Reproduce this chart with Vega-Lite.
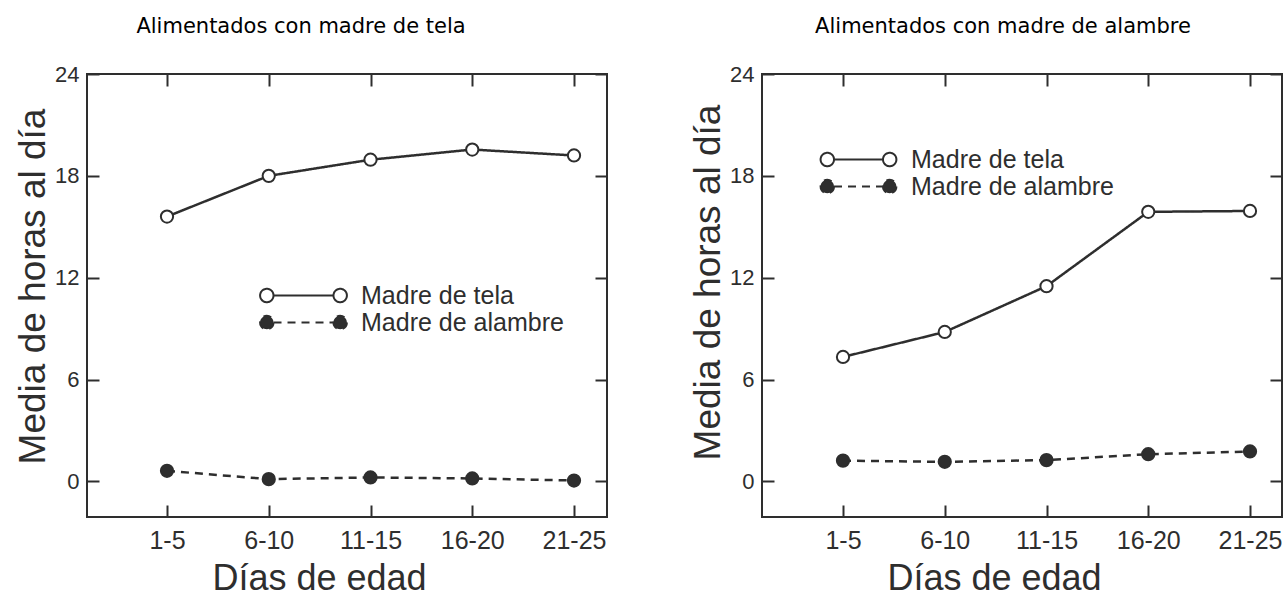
{
  "$schema": "https://vega.github.io/schema/vega-lite/v6.json",
  "padding": {"left": 13, "top": 15, "right": 0, "bottom": 0},
  "background": "white",
  "config": {
    "view": {"stroke": "#2e2e2e", "strokeWidth": 2},
    "font": "Liberation Sans",
    "axis": {
      "domain": false, "tickColor": "#2e2e2e", "tickWidth": 2, "tickSize": -12,
      "labelColor": "#2e2e2e", "titleColor": "#2e2e2e", "grid": false,
      "labelFont": "Liberation Sans", "titleFont": "Liberation Sans", "titleFontWeight": "normal"
    },
    "legend": {
      "title": null, "orient": "none", "padding": 0, "symbolSize": 180,
      "symbolStrokeColor": "#2e2e2e", "symbolStrokeWidth": 2, "symbolOpacity": 1,
      "labelFont": "Liberation Sans", "labelFontSize": 25, "labelColor": "#2e2e2e", "labelLimit": 400, "rowPadding": 1
    },
    "title": {"font": "DejaVu Sans", "fontSize": 21, "fontWeight": "normal", "color": "#000"}
  },
  "datasets": {
    "datos": [
      {"grupo": "tela", "serie": "Madre de tela", "edad": "1-5", "horas": 15.6},
      {"grupo": "tela", "serie": "Madre de tela", "edad": "6-10", "horas": 18.0},
      {"grupo": "tela", "serie": "Madre de tela", "edad": "11-15", "horas": 18.95},
      {"grupo": "tela", "serie": "Madre de tela", "edad": "16-20", "horas": 19.55},
      {"grupo": "tela", "serie": "Madre de tela", "edad": "21-25", "horas": 19.2},
      {"grupo": "tela", "serie": "Madre de alambre", "edad": "1-5", "horas": 0.62},
      {"grupo": "tela", "serie": "Madre de alambre", "edad": "6-10", "horas": 0.13},
      {"grupo": "tela", "serie": "Madre de alambre", "edad": "11-15", "horas": 0.23},
      {"grupo": "tela", "serie": "Madre de alambre", "edad": "16-20", "horas": 0.17},
      {"grupo": "tela", "serie": "Madre de alambre", "edad": "21-25", "horas": 0.05},
      {"grupo": "alambre", "serie": "Madre de tela", "edad": "1-5", "horas": 7.33},
      {"grupo": "alambre", "serie": "Madre de tela", "edad": "6-10", "horas": 8.8},
      {"grupo": "alambre", "serie": "Madre de tela", "edad": "11-15", "horas": 11.5},
      {"grupo": "alambre", "serie": "Madre de tela", "edad": "16-20", "horas": 15.88},
      {"grupo": "alambre", "serie": "Madre de tela", "edad": "21-25", "horas": 15.93},
      {"grupo": "alambre", "serie": "Madre de alambre", "edad": "1-5", "horas": 1.22},
      {"grupo": "alambre", "serie": "Madre de alambre", "edad": "6-10", "horas": 1.15},
      {"grupo": "alambre", "serie": "Madre de alambre", "edad": "11-15", "horas": 1.25},
      {"grupo": "alambre", "serie": "Madre de alambre", "edad": "16-20", "horas": 1.6},
      {"grupo": "alambre", "serie": "Madre de alambre", "edad": "21-25", "horas": 1.76}
    ]
  },
  "spacing": 79,
  "resolve": {
    "scale": {"fill": "independent", "strokeDash": "independent"},
    "legend": {"fill": "independent", "strokeDash": "independent"}
  },
  "hconcat": [
    {
      "title": {"text": "Alimentados con madre de tela", "anchor": "middle", "frame": "group", "dx": -46, "offset": 26},
      "width": 520, "height": 443,
      "data": {"name": "datos"},
      "transform": [{"filter": "datum.grupo == 'tela'"}],
      "resolve": {"axis": {"x": "independent", "y": "independent"}},
      "layer": [
        {
          "mark": {"type": "line", "color": "#2e2e2e", "strokeWidth": 2.5},
          "encoding": {
            "x": {"field": "edad", "type": "ordinal", "scale": {"type": "point", "padding": 0, "domain": ["1-5", "6-10", "11-15", "16-20", "21-25"], "range": [80, 487]},
                  "axis": {"orient": "bottom", "title": "Días de edad", "titleFontSize": 36, "titlePadding": 8, "titleX": 232, "titleAlign": "center", "labelFontSize": 25, "labelPadding": 23, "labelAngle": 0}},
            "y": {"field": "horas", "type": "quantitative", "scale": {"domain": [-2.1, 24], "nice": false, "zero": false},
                  "axis": {"orient": "left", "title": "Media de horas al día", "titleFontSize": 37, "titlePadding": 2, "titleY": 212, "titleAlign": "center", "values": [0, 6, 12, 18, 24], "labelFontSize": 22, "labelPadding": 20}},
            "strokeDash": {"field": "serie", "type": "nominal", "scale": {"domain": ["Madre de tela", "Madre de alambre"], "range": [[1, 0], [8, 6]]},
                  "legend": {"legendX": 204, "legendY": 209, "labelOffset": 45,
                    "symbolType": "M -4.47 0 A 1 1 0 1 1 -6.47 0 A 1 1 0 1 1 -4.47 0 Z M -4.47 0 L 4.47 0 M 6.47 0 A 1 1 0 1 1 4.47 0 A 1 1 0 1 1 6.47 0 Z"}}
          }
        },
        {
          "mark": {"type": "point", "shape": "circle", "filled": true, "size": 150, "stroke": "#2e2e2e", "strokeWidth": 2, "opacity": 1},
          "encoding": {
            "x": {"field": "edad", "type": "ordinal", "axis": {"orient": "top", "title": null, "labels": false}},
            "y": {"field": "horas", "type": "quantitative", "axis": {"orient": "right", "title": null, "labels": false, "values": [0, 6, 12, 18, 24]}},
            "fill": {"field": "serie", "type": "nominal", "scale": {"domain": ["Madre de tela", "Madre de alambre"], "range": ["white", "#2e2e2e"]},
                  "legend": {"legendX": 204, "legendY": 209, "labelOffset": 45,
                    "symbolType": "M -4.47 0 A 1 1 0 1 1 -6.47 0 A 1 1 0 1 1 -4.47 0 Z M -4.47 0 L 4.47 0 M 6.47 0 A 1 1 0 1 1 4.47 0 A 1 1 0 1 1 6.47 0 Z"}}
          }
        }
      ]
    },
    {
      "title": {"text": "Alimentados con madre de alambre", "anchor": "middle", "frame": "group", "dx": -19, "offset": 26},
      "width": 520, "height": 443,
      "data": {"name": "datos"},
      "transform": [{"filter": "datum.grupo == 'alambre'"}],
      "resolve": {"axis": {"x": "independent", "y": "independent"}},
      "layer": [
        {
          "mark": {"type": "line", "color": "#2e2e2e", "strokeWidth": 2.5},
          "encoding": {
            "x": {"field": "edad", "type": "ordinal", "scale": {"type": "point", "padding": 0, "domain": ["1-5", "6-10", "11-15", "16-20", "21-25"], "range": [81, 488]},
                  "axis": {"orient": "bottom", "title": "Días de edad", "titleFontSize": 36, "titlePadding": 8, "titleX": 232, "titleAlign": "center", "labelFontSize": 25, "labelPadding": 23, "labelAngle": 0}},
            "y": {"field": "horas", "type": "quantitative", "scale": {"domain": [-2.1, 24], "nice": false, "zero": false},
                  "axis": {"orient": "left", "title": "Media de horas al día", "titleFontSize": 37, "titlePadding": 2, "titleY": 208, "titleAlign": "center", "values": [0, 6, 12, 18, 24], "labelFontSize": 22, "labelPadding": 20}},
            "strokeDash": {"field": "serie", "type": "nominal", "scale": {"domain": ["Madre de tela", "Madre de alambre"], "range": [[1, 0], [8, 6]]},
                  "legend": {"legendX": 84, "legendY": 73, "labelOffset": 40,
                    "symbolType": "M -3.65 0 A 1 1 0 1 1 -5.65 0 A 1 1 0 1 1 -3.65 0 Z M -3.65 0 L 3.65 0 M 5.65 0 A 1 1 0 1 1 3.65 0 A 1 1 0 1 1 5.65 0 Z"}}
          }
        },
        {
          "mark": {"type": "point", "shape": "circle", "filled": true, "size": 150, "stroke": "#2e2e2e", "strokeWidth": 2, "opacity": 1},
          "encoding": {
            "x": {"field": "edad", "type": "ordinal", "axis": {"orient": "top", "title": null, "labels": false}},
            "y": {"field": "horas", "type": "quantitative", "axis": {"orient": "right", "title": null, "labels": false, "values": [0, 6, 12, 18, 24]}},
            "fill": {"field": "serie", "type": "nominal", "scale": {"domain": ["Madre de tela", "Madre de alambre"], "range": ["white", "#2e2e2e"]},
                  "legend": {"legendX": 84, "legendY": 73, "labelOffset": 40,
                    "symbolType": "M -3.65 0 A 1 1 0 1 1 -5.65 0 A 1 1 0 1 1 -3.65 0 Z M -3.65 0 L 3.65 0 M 5.65 0 A 1 1 0 1 1 3.65 0 A 1 1 0 1 1 5.65 0 Z"}}
          }
        }
      ]
    }
  ]
}
